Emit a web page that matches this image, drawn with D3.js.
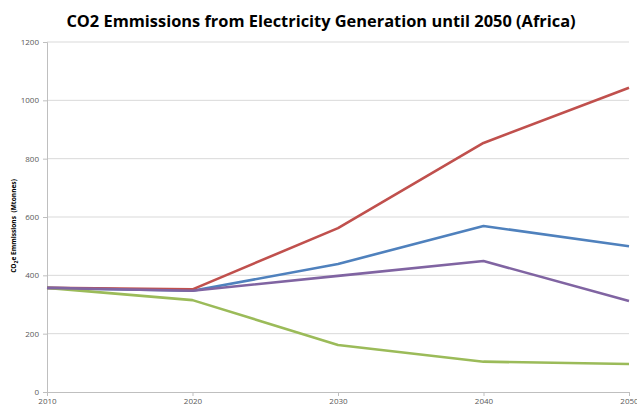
<!DOCTYPE html>
<html>
<head>
<meta charset="utf-8">
<script src="https://cdn.jsdelivr.net/npm/d3@7"></script>
<style>
  html, body { margin: 0; padding: 0; background: #fff; }
  svg { display: block; }
</style>
</head>
<body>
<svg id="chart" width="637" height="406"></svg>
<script>
// Years on the horizontal axis
const years = [2010, 2020, 2030, 2040, 2050];
// Emissions per scenario (Mtonnes CO2e)
const seriesBlue   = [357, 347, 439, 569, 500];
const seriesRed    = [357, 352, 562, 854, 1043];
const seriesGreen  = [357, 315, 161, 104, 96];
const seriesPurple = [357, 347, 398, 449, 312];
const yTicks = [0, 200, 400, 600, 800, 1000, 1200];

const series = [
  { values: seriesBlue,   color: "#4f81bd" },
  { values: seriesRed,    color: "#c0504d" },
  { values: seriesGreen,  color: "#9bbb59" },
  { values: seriesPurple, color: "#8064a2" }
];

const svg = d3.select("#chart");
const plotLeft = 47, plotRight = 629, plotTop = 42, plotBottom = 392;

const x = d3.scaleLinear().domain([2010, 2050]).range([plotLeft, plotRight]);
const y = d3.scaleLinear().domain([0, 1200]).range([plotBottom, plotTop]);

// Horizontal gridlines
svg.append("g")
  .selectAll("line")
  .data(yTicks.filter(d => d > 0))
  .join("line")
  .attr("x1", plotLeft).attr("x2", plotRight)
  .attr("y1", d => y(d)).attr("y2", d => y(d))
  .attr("stroke", "#d9d9d9").attr("stroke-width", 1);

// Y axis
const yAxis = svg.append("g")
  .attr("transform", `translate(${plotLeft},0)`)
  .call(d3.axisLeft(y).tickValues(yTicks).tickSize(4).tickPadding(4).tickFormat(d3.format("d")));
yAxis.select(".domain").attr("stroke", "#bfbfbf");
yAxis.selectAll(".tick line").attr("stroke", "#bfbfbf");
yAxis.selectAll("text")
  .attr("fill", "#595959")
  .style("font-family", "'Open Sans', 'Liberation Sans', sans-serif")
  .style("font-size", "8px");

// X axis
const xAxis = svg.append("g")
  .attr("transform", `translate(0,${plotBottom})`)
  .call(d3.axisBottom(x).tickValues(years).tickSize(4).tickPadding(2).tickFormat(d3.format("d")));
xAxis.select(".domain").attr("stroke", "#bfbfbf");
xAxis.selectAll(".tick line").attr("stroke", "#bfbfbf");
xAxis.selectAll("text")
  .attr("fill", "#595959")
  .style("font-family", "'Open Sans', 'Liberation Sans', sans-serif")
  .style("font-size", "8px");

// Scenario lines
const line = d3.line()
  .x((d, i) => x(years[i]))
  .y(d => y(d));

svg.append("g")
  .selectAll("path")
  .data(series)
  .join("path")
  .attr("d", d => line(d.values))
  .attr("fill", "none")
  .attr("stroke", d => d.color)
  .attr("stroke-width", 2.6)
  .attr("stroke-linejoin", "round");

// Title
svg.append("text")
  .attr("x", 321).attr("y", 27)
  .attr("text-anchor", "middle")
  .style("font-family", "'Open Sans', 'Liberation Sans', sans-serif")
  .style("font-weight", "bold")
  .style("font-size", "16.4px")
  .attr("fill", "#000")
  .text("CO2 Emmissions  from Electricity Generation until 2050 (Africa)");

// Y axis title
const yt = svg.append("text")
  .attr("transform", "translate(16,226) rotate(-90)")
  .attr("text-anchor", "middle")
  .style("font-family", "'Open Sans', 'Liberation Sans', sans-serif")
  .style("font-weight", "bold")
  .style("font-size", "6.6px")
  .attr("fill", "#000")
  .attr("xml:space", "preserve");
yt.append("tspan").text("CO");
yt.append("tspan").attr("dy", 2).style("font-size", "5px").text("2");
yt.append("tspan").attr("dy", -2).text("e Emmissions  (Mtonnes)");
</script>
</body>
</html>
